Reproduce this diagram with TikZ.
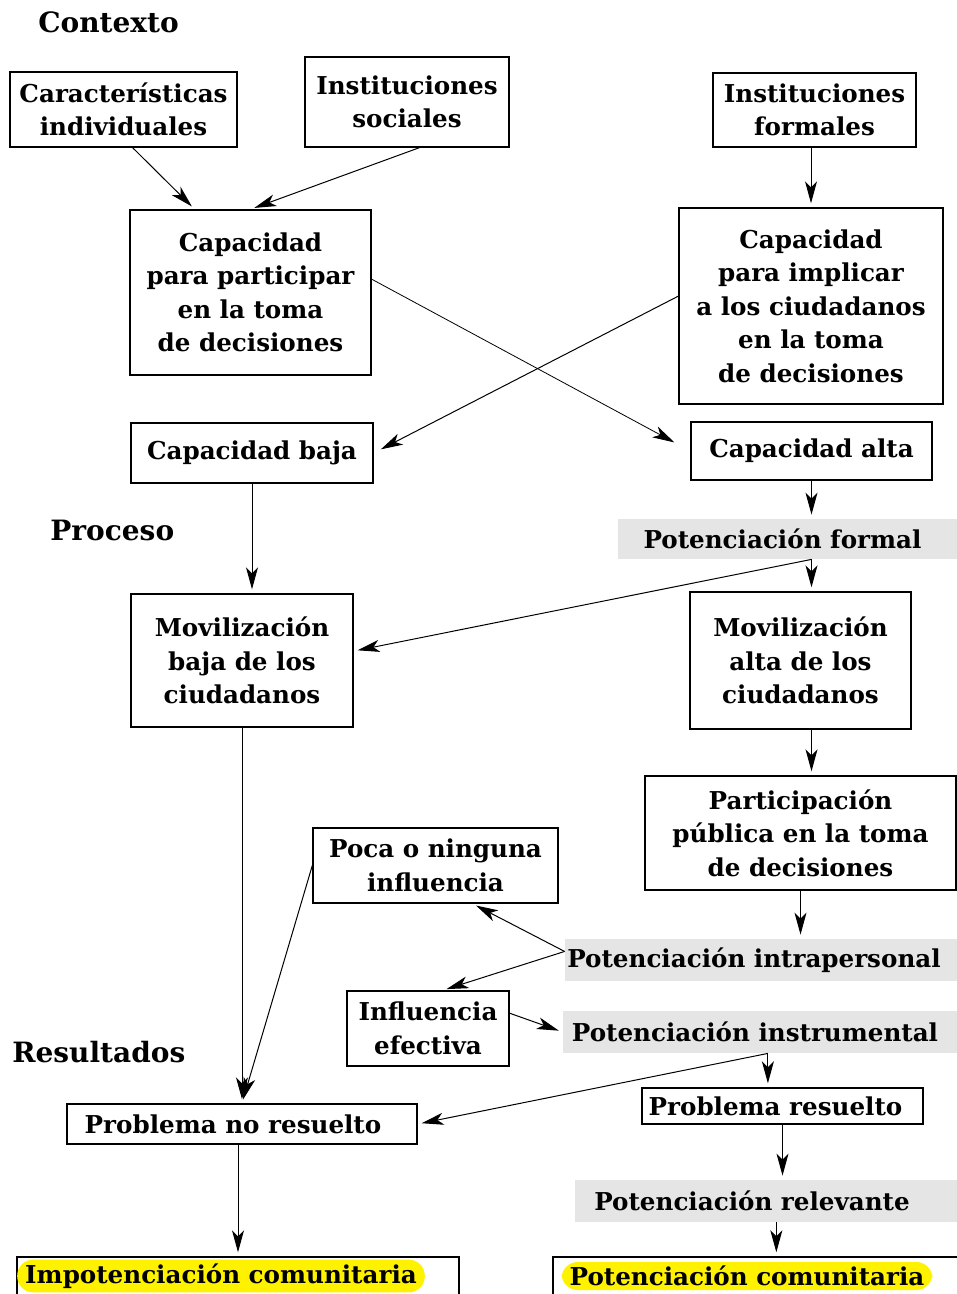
\documentclass[tikz,border=0pt]{standalone}
\usepackage{fontspec}
\setmainfont{DejaVu Serif}
\usetikzlibrary{arrows.meta,calc}
\begin{document}
\begin{tikzpicture}[x=0.5pt,y=-0.5pt,
  font=\bfseries\fontsize{12.3}{16.75}\selectfont,
  caja/.style={draw,line width=0.7pt,align=center,inner sep=0pt},
  gris/.style={fill=black!10,align=center,inner sep=0pt},
  marca/.style={fill=yellow,rounded corners=8pt,inner xsep=4pt,inner ysep=2pt},
  titulo/.style={anchor=west,inner sep=0pt,font=\bfseries\fontsize{14}{17}\selectfont},
  flecha/.style={-{Stealth[length=11pt,width=6pt,inset=3pt]},line width=0.5pt,shorten >=2pt}]

  \useasboundingbox (0,0) rectangle (957,1294);
  \clip (0,0) rectangle (957,1294);

  % headings
  \node[titulo] (contexto) at (38,22) {Contexto};
  \node[titulo] (proceso) at (50,530) {Proceso};
  \node[titulo] (resultados) at (12,1052) {Resultados};

  % context
  \node[caja,minimum width=113.5pt,minimum height=37.5pt] (car) at (123.5,109.5) {Características\\individuales};
  \node[caja,minimum width=102pt,minimum height=45pt] (soc) at (407,102) {Instituciones\\sociales};
  \node[caja,minimum width=101.5pt,minimum height=37pt] (form) at (814.5,110) {Instituciones\\formales};
  \node[caja,minimum width=120.5pt,minimum height=82.5pt] (cpart) at (250.5,292.5) {Capacidad\\para participar\\en la toma\\de decisiones};
  \node[caja,minimum width=132pt,minimum height=98pt] (cimpl) at (811,306) {Capacidad\\para implicar\\a los ciudadanos\\en la toma\\de decisiones};
  \node[caja,minimum width=121pt,minimum height=30pt] (baja) at (252,453) {Capacidad baja};
  \node[caja,minimum width=120.5pt,minimum height=29pt] (alta) at (811.5,451) {Capacidad alta};

  % process
  \node[gris,minimum width=169.5pt,minimum height=20pt] (potformal) at (787.5,539) {Potenciación formal\hspace*{5pt}};
  \node[caja,minimum width=111pt,minimum height=66.5pt] (movbaja) at (242,660.5) {Movilización\\baja de los\\ciudadanos};
  \node[caja,minimum width=110.5pt,minimum height=68.5pt] (movalta) at (800.5,660.5) {Movilización\\alta de los\\ciudadanos};
  \node[caja,minimum width=155.5pt,minimum height=57pt] (part) at (800.5,833) {Participación\\pública en la toma\\de decisiones};
  \node[caja,minimum width=122.5pt,minimum height=37.5pt] (poca) at (435.5,865.5) {Poca o ninguna\\influencia};
  \node[gris,minimum width=196pt,minimum height=21pt] (potintra) at (761,960) {Potenciación intrapersonal\hspace*{7pt}};
  \node[caja,minimum width=81pt,minimum height=37.5pt] (infl) at (428,1028.5) {Influencia\\efectiva};
  \node[gris,minimum width=197pt,minimum height=21pt] (potinstr) at (760,1032) {Potenciación instrumental\hspace*{5pt}};

  % results
  \node[caja,minimum width=175pt,minimum height=20pt] (noresuelto) at (242,1124) {Problema no resuelto\hspace*{9pt}};
  \node[caja,minimum width=140.5pt,minimum height=18pt] (resuelto) at (782.5,1106) {Problema resuelto\hspace*{7pt}};
  \node[gris,minimum width=191pt,minimum height=21pt] (potrel) at (766,1201) {Potenciación relevante\hspace*{14pt}};
  \node[caja,minimum width=221pt,minimum height=36.5pt] (impot) at (238,1293.5) {};
  \node[marca] (impottxt) at (221,1276) {Impotenciación comunitaria};
  \node[caja,minimum width=223.5pt,minimum height=36.5pt] (potcom) at (776.5,1293.5) {};
  \node[marca] (potcomtxt) at (747,1276) {Potenciación comunitaria};

  % branch points
  \coordinate (pf) at (alta.south |- potformal.south);
  \coordinate (pi) at ($(potinstr.south west)!0.52!(potinstr.south east)$);
  \coordinate (pr) at ($(potrel.south west)!0.527!(potrel.south east)$);

  % arrows
  \draw[flecha] ($(car.south west)!0.54!(car.south east)$) -- ($(cpart.north west)!0.27!(cpart.north east)$);
  \draw[flecha] ($(soc.south west)!0.56!(soc.south east)$) -- (cpart.north);
  \draw[flecha] (cimpl.north |- form.south) -- (cimpl.north);
  \draw[flecha,line width=0.4pt,shorten >=9pt] ($(cpart.north east)!0.42!(cpart.south east)$) -- (alta.west);
  \draw[flecha,shorten >=4pt] ($(cimpl.north west)!0.45!(cimpl.south west)$) -- (baja.east);
  \draw[flecha] (baja.south) -- (baja.south |- movbaja.north);
  \draw[flecha] (alta.south) -- (alta.south |- potformal.north);
  \draw[flecha] (pf) -- (pf |- movalta.north);
  \draw[flecha] (pf) -- ($(movbaja.north east)!0.43!(movbaja.south east)$);
  \draw[flecha] (movbaja.south) -- (noresuelto.north);
  \draw[flecha] (pf |- movalta.south) -- (pf |- part.north);
  \draw[flecha] (part.south) -- (part.south |- potintra.north);
  \draw[flecha] ($(potintra.north west)!0.3!(potintra.south west)$) -- ($(poca.south west)!0.65!(poca.south east)$);
  \draw[flecha] ($(potintra.north west)!0.3!(potintra.south west)$) -- ($(infl.north west)!0.59!(infl.north east)$);
  \draw[flecha] ($(infl.north east)!0.3!(infl.south east)$) -- (potinstr.west);
  \draw[flecha] (poca.west) -- (noresuelto.north);
  \draw[flecha] (pi) -- (pi |- resuelto.north);
  \draw[flecha] (pi) -- (noresuelto.east);
  \draw[flecha] (resuelto.south) -- (resuelto.south |- potrel.north);
  \draw[flecha] (impot.north |- noresuelto.south) -- (impot.north);
  \draw[flecha] (pr) -- (pr |- potcom.north);
\end{tikzpicture}
\end{document}
